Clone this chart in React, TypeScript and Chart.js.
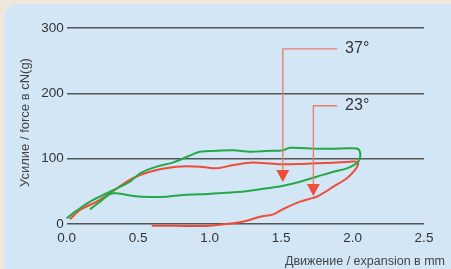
import React, { useEffect, useRef } from "react";
import { Chart, registerables } from "chart.js";

Chart.register(...registerables);

// Green curve (37°): loading then unloading
const greenX = [0, 0.07, 0.163, 0.303, 0.443, 0.513, 0.63, 0.747, 0.886, 0.933, 1.05, 1.166, 1.283, 1.4, 1.516, 1.563, 1.75, 1.866, 1.983, 2.04, 2.055, 2.045, 2.03,
  1.96, 1.866, 1.75, 1.633, 1.516, 1.4, 1.283, 1.166, 1.05, 0.933, 0.816, 0.7, 0.583, 0.467, 0.35, 0.303, 0.233, 0.163];
const greenY = [8.7, 20.4, 34.2, 49.5, 64.8, 77.6, 87.8, 94.4, 107, 110.7, 112, 113, 110.7, 111.7, 113, 116.8, 115.3, 115.3, 115.8, 114.5, 106, 97, 92.9,
  85.2, 80.1, 72.4, 64.8, 58.7, 54.6, 51, 48.5, 47, 45.4, 44.4, 41.8, 41.3, 42.9, 46.9, 45.9, 34.2, 22.4];

// Red curve (23°): loading then unloading
const redX = [0.023, 0.093, 0.21, 0.303, 0.42, 0.513, 0.63, 0.77, 0.933, 1.05, 1.166, 1.283, 1.4, 1.516, 1.633, 1.75, 1.866, 1.983, 2.03,
  2.04, 2.018, 1.96, 1.866, 1.75, 1.633, 1.516, 1.446, 1.353, 1.26, 1.166, 1.05, 0.98, 0.816, 0.7, 0.595];
const redY = [7.1, 21.4, 34.2, 46.9, 64.8, 75, 82.7, 87.8, 87.8, 85.2, 90.3, 93.9, 92.9, 91.3, 91.8, 92.9, 93.9, 95.4, 95.4,
  91.8, 82.7, 69.9, 57.1, 41.8, 34.2, 23, 14.8, 11.2, 5.1, 1, -1.5, -3, -3, -2.6, -2.6];

const xTicks = [0, 0.5, 1, 1.5, 2, 2.5];
const yTicks = [0, 100, 200, 300];

// Annotation arrows
const arrowLabels = ["37°", "23°"];
const arrowX = [1.512, 1.726];
const arrowTopY = [268, 181];
const arrowTipY = [64.3, 42.9];
const arrowLineEndX = [1.892, 1.892];

const xTitle = "Движение / expansion в mm";
const yTitle = "Усилие / force в cN(g)";

const FONT = "'Liberation Sans', Arial, sans-serif";

const overlayPlugin = {
  id: "overlay",
  afterDatasetsDraw(chart: any) {
    const ctx = chart.ctx;
    const xs = chart.scales.x;
    const ys = chart.scales.y;
    ctx.save();
    for (let i = 0; i < arrowLabels.length; i++) {
      const px = xs.getPixelForValue(arrowX[i]);
      const pTop = ys.getPixelForValue(arrowTopY[i]);
      const pTip = ys.getPixelForValue(arrowTipY[i]);
      const pEnd = xs.getPixelForValue(arrowLineEndX[i]);
      ctx.strokeStyle = "#f07a6c";
      ctx.lineWidth = 1.3;
      ctx.beginPath();
      ctx.moveTo(pEnd, pTop);
      ctx.lineTo(px, pTop);
      ctx.lineTo(px, pTip - 10);
      ctx.stroke();
      ctx.fillStyle = "#ee4f3a";
      ctx.beginPath();
      ctx.moveTo(px - 6.5, pTip - 12);
      ctx.lineTo(px + 6.5, pTip - 12);
      ctx.lineTo(px, pTip);
      ctx.closePath();
      ctx.fill();
      ctx.fillStyle = "#333";
      ctx.font = `16px ${FONT}`;
      ctx.textAlign = "left";
      ctx.textBaseline = "middle";
      ctx.fillText(arrowLabels[i], pEnd + 8, pTop);
    }
    // axis titles
    ctx.fillStyle = "#444";
    ctx.font = `12.5px ${FONT}`;
    ctx.textAlign = "right";
    ctx.textBaseline = "middle";
    ctx.fillText(xTitle, 445, 262);
    ctx.translate(25, 122.5);
    ctx.rotate(-Math.PI / 2);
    ctx.textAlign = "center";
    ctx.font = `13px ${FONT}`;
    ctx.fillText(yTitle, 0, 0);
    ctx.restore();
  },
};

export default function App() {
  const ref = useRef<HTMLCanvasElement>(null);
  useEffect(() => {
    if (!ref.current) return;
    const chart = new Chart(ref.current, {
      type: "scatter",
      data: {
        datasets: [
          {
            data: greenX.map((x, i) => ({ x, y: greenY[i] })),
            showLine: true,
            borderColor: "#23a948",
            borderWidth: 2,
            pointRadius: 0,
            tension: 0.3,
            clip: false as any,
          },
          {
            data: redX.map((x, i) => ({ x, y: redY[i] })),
            showLine: true,
            borderColor: "#f04b36",
            borderWidth: 2,
            pointRadius: 0,
            tension: 0.3,
            clip: false as any,
          },
        ],
      },
      options: {
        animation: false,
        responsive: false,
        events: [],
        layout: { padding: { top: 28, right: 27, left: 0, bottom: 0 } },
        plugins: { legend: { display: false }, tooltip: { enabled: false } },
        scales: {
          x: {
            type: "linear",
            min: 0,
            max: 2.5,
            afterBuildTicks: (s: any) => {
              s.ticks = xTicks.map((v) => ({ value: v }));
            },
            afterFit: (s: any) => {
              s.height = 45;
            },
            grid: { display: false },
            border: { display: false },
            ticks: {
              font: { family: FONT, size: 13.5 },
              color: "#333",
              padding: -2,
              callback: (v: any) => Number(v).toFixed(1),
            },
          },
          y: {
            min: 0,
            max: 300,
            afterBuildTicks: (s: any) => {
              s.ticks = yTicks.map((v) => ({ value: v }));
            },
            afterFit: (s: any) => {
              s.width = 66.7;
            },
            grid: { color: "#555", lineWidth: 1.5, drawTicks: false },
            border: { display: false },
            ticks: {
              font: { family: FONT, size: 13.5 },
              color: "#333",
              padding: 3,
            },
          },
        },
      },
      plugins: [overlayPlugin],
    });
    return () => chart.destroy();
  }, []);
  return (
    <div style={{ position: "fixed", left: 0, top: 0, width: 451, height: 269, background: "#efe7da", overflow: "hidden" }}>
      <div style={{ position: "absolute", left: 4, top: 4, width: 470, height: 290, borderRadius: 13, background: "#d3e6f5" }} />
      <canvas ref={ref} width={451} height={269} style={{ position: "absolute", left: 0, top: 0 }} />
    </div>
  );
}
